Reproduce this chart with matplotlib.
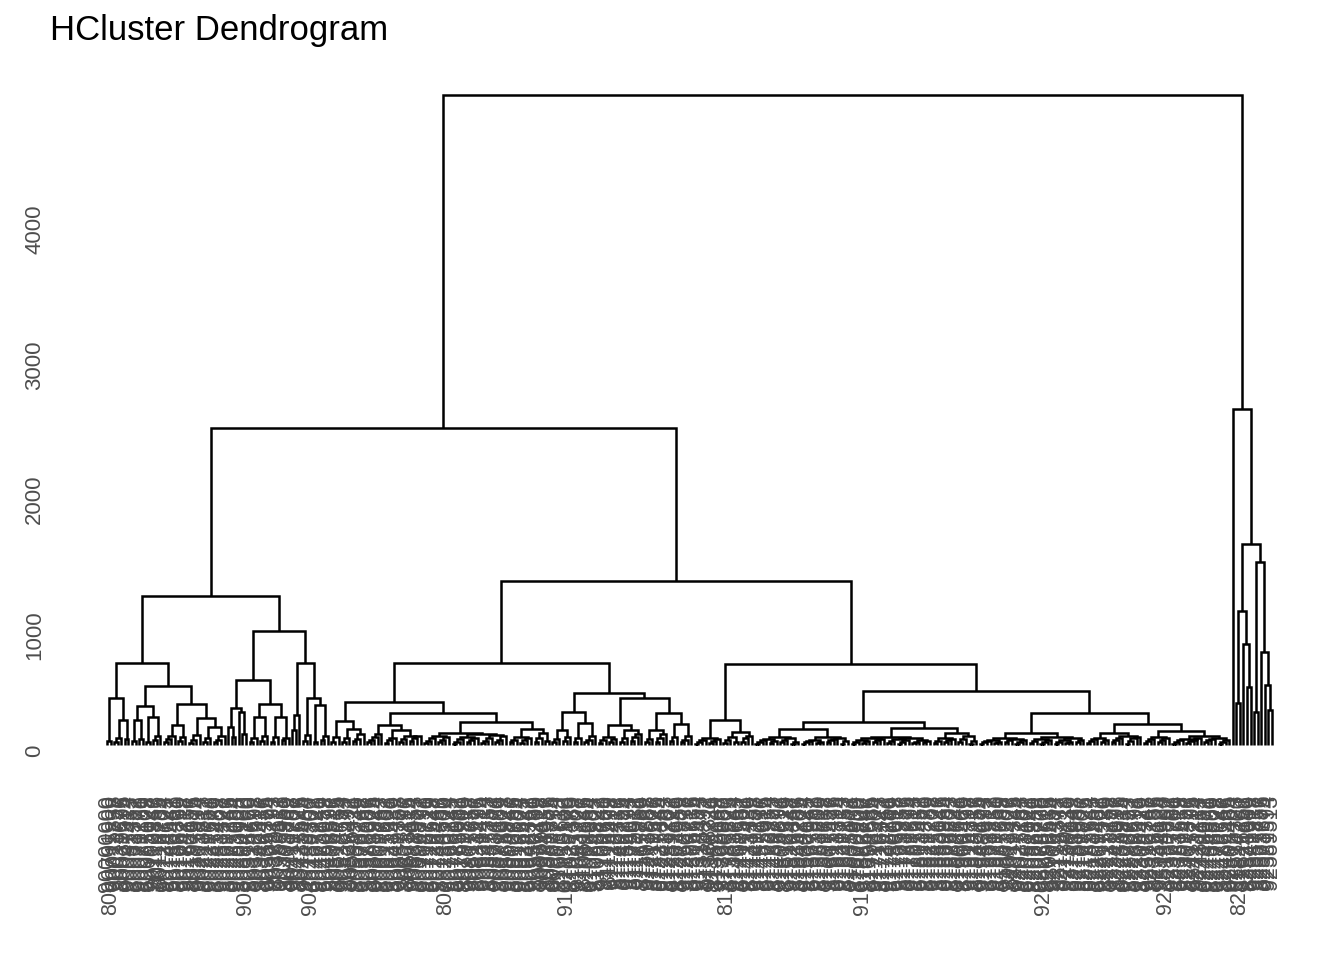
import matplotlib
matplotlib.use("Agg")
import matplotlib.pyplot as plt
from matplotlib.collections import LineCollection

plt.rcParams['font.family'] = ['Liberation Sans', 'DejaVu Sans']

# merge heights.
# a list is [height, left, right]; a tuple is a small chain of leaves
# joined one by one at the listed heights (empty tuple = single leaf)
A1a = [348, (30,), [185, (25, 55), (45,)]]
A1b = [437,
       [289, [185, (30,), (45,)], [207, (20,), (35, 70)]],
       [304, [148, (20, 45, 70), (30, 60)],
        [200, (15, 40, 74), [133, (25, 55), (20, 40, 70)]]]]
A2a = [481, [274, [133, (), (60,)], [244, (), (80,)]],
       [304, [207, (20, 50), (30, 70)], [207, (25, 60), (35, 55)]]]
A2b = [607, (110, 222), [348, (30, 75), [296, (25,), (40, 70)]]]
A = [1104, [607, A1a, A1b], [844, A2a, A2b]]

B1aL = [178, (25, 60), [118, (20, 50), (30, 45, 80)]]
R386 = [148, (20, 40, 60, 80), [111, (15, 35, 55), [70, (20, 45), (30, 50, 65)]]]
R465 = [89, [70, (15, 30, 50), (20, 40, 60)],
        [80, [60, (10, 25, 45), (20, 35, 55)], [75, (15, 30, 50), (25, 40, 65)]]]
R540 = [118, [60, (20, 40), (15, 35, 55)], [90, (25, 50), (30,)]]
B1bL = [244, [111, (20, 45), (30, 60)], [163, (25, 55), (20, 40, 70)]]
R617 = [148, [60, (15, 35), (20, 45)], [111, (25, 50), (30, 60, 80)]]
R653 = [237, [111, (20, 45), (25, 55, 80)], [155, (30, 60), (20, 40, 70)]]
B1 = [607, [319, B1aL, [237, R386, [170, R465, R540]]], [385, B1bL, [348, R617, R653]]]

B2a = [185, [52, (10, 20, 35), (15, 30, 45)], [96, [60, (15, 35), (20,)], (25, 50, 70)]]
L763 = [59, [45, (10, 25, 35), (15, 30)], [50, (20, 35), (10, 25)]]
L827 = [59, [40, (10, 20, 30), (15, 25)], [55, (20, 35, 45), (10, 30)]]
L899 = [59, [50, [40, (10, 25), (15, 30)], (20, 35, 45)],
        [55, [45, (15, 30), (10, 20, 35)], [40, (15, 25), (20, 30)]]]
L960 = [89, [50, (15, 30), (20, 35, 45)], [70, (25, 45), (10, 30)]]
R1002 = [52, [40, (10, 20, 30), (15, 25)], [45, (20, 35), (10, 25, 40)]]
R1072 = [59, [45, (15, 30), (10, 25, 40)], [50, [35, (10, 20), (15, 25)], (20, 40)]]
R1122 = [89, [55, (15, 30, 45), (20, 35)], [70, (25, 40, 55), (10, 30, 50, 60)]]
R1180 = [104, [59, (15, 30, 45), (20, 40, 50)],
         [66, [45, (10, 25, 35), (15, 30, 40, 50)], [55, (20, 35, 45), (10, 25, 40)]]]
B2 = [600, B2a, [400, [170, [118, L763, L827], [126, L899, L960]],
                 [237, [89, R1002, R1072], [155, R1122, R1180]]]]

C = [2489, (), [1489, [993, (311,), [748, (), [430, (), ()]]],
                [1356, (244,), [689, (), [444, (), [259, (), ()]]]]]]
ROOT = [4815, [2348, A, [1215, B1, B2]], C]

YTICKS = [0, 1000, 2000, 3000, 4000]
LEAF_PREFIX = ["9", "8", "9", "9", "8", "8", "9", "9", "8", "9"]
LONG_LABEL_LEAVES = [1, 39, 57, 95, 129, 174, 212, 263, 297, 318]

segs = []
pos = [0]


def place(node):
    if isinstance(node, tuple):
        x = pos[0]
        pos[0] += 1
        h = 0
        for hh in node:
            x2 = pos[0]
            pos[0] += 1
            segs.append([(x, h), (x, hh), (x2, hh), (x2, 0)])
            x, h = (x + x2) / 2, hh
        return x, h
    hgt, left, right = node
    xl, hl = place(left)
    xr, hr = place(right)
    segs.append([(xl, hl), (xl, hgt), (xr, hgt), (xr, hr)])
    return (xl + xr) / 2, hgt


place(ROOT)
n = pos[0]

W, H = 1344, 960
fig = plt.figure(figsize=(W / 100, H / 100), dpi=100)
L, R, T, Bt = 52, 1290, 90, 750
ax = fig.add_axes([L / W, (H - Bt) / H, (R - L) / W, (Bt - T) / H])

k = (1272 - 107) / (n - 1)
ax.set_xlim(-(107 - L) / k, n - 1 + (R - 1272) / k)
yk = 0.135
ax.set_ylim((745 - Bt) / yk, (745 - T) / yk)

ax.add_collection(LineCollection(segs, colors='black', linewidths=1.8,
                                 capstyle='butt', joinstyle='miter', clip_on=False))

for i in range(n):
    lab = LEAF_PREFIX[i % len(LEAF_PREFIX)] + f"{(i * 7919) % 10000000:07d}"
    if i in LONG_LABEL_LEAVES:
        lab = lab + "00"
    ax.text(i, (745 - 795) / yk, lab, rotation=90, ha='center', va='top',
            fontsize=15.5, color='#4D4D4D')

ax.set_yticks(YTICKS)
ax.set_yticklabels([str(v) for v in YTICKS], rotation=90, va='top',
                   fontsize=16, color='#4D4D4D')
ax.tick_params(axis='y', length=0, pad=5)
ax.set_xticks([])
for s in ax.spines.values():
    s.set_visible(False)

fig.text(50 / W, 1 - 40 / H, "HCluster Dendrogram", fontsize=25,
         ha='left', va='baseline')

fig.savefig("out.png", dpi=100)
